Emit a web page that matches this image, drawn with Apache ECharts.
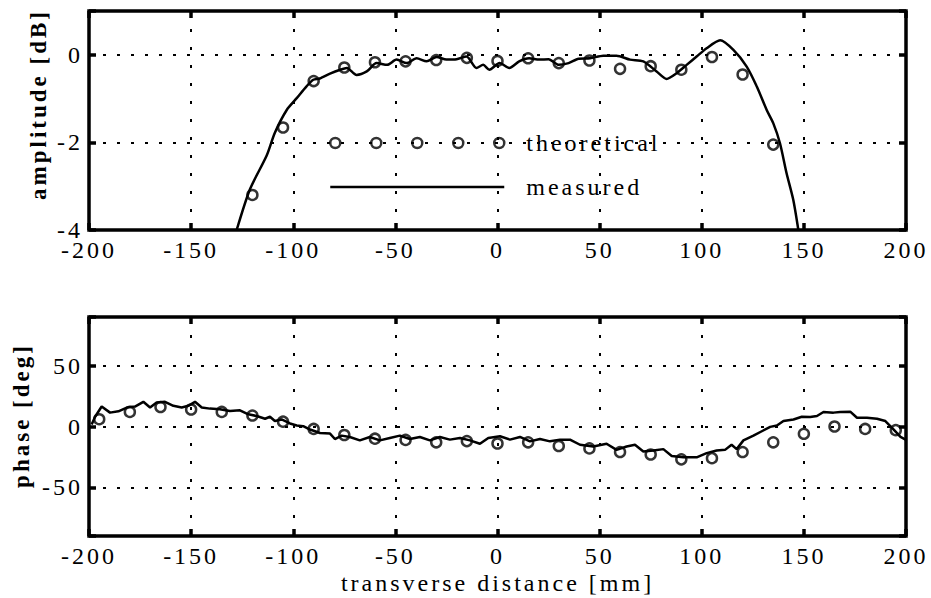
<!DOCTYPE html>
<html><head><meta charset="utf-8">
<script src="https://cdn.jsdelivr.net/npm/echarts@6/dist/echarts.min.js"></script>
<style>
html,body{margin:0;padding:0;background:#fff;}
#chart{width:931px;height:598px;}
#chart text{letter-spacing:3px;}
</style></head><body><div id="chart"></div>
<script>
// ---- data ----
const xTicks = [-200, -150, -100, -50, 0, 50, 100, 150, 200];
const ampTicks = [-4, -2, 0];
const phaseTicks = [-50, 0, 50];

const ampTheoX = [-120, -105, -90, -75, -60, -45, -30, -15, 0, 15, 30, 45, 60, 75, 90, 105, 120, 135];
const ampTheoY = [-3.2, -1.66, -0.6, -0.29, -0.17, -0.15, -0.12, -0.07, -0.14, -0.08, -0.19, -0.13, -0.32, -0.26, -0.34, -0.05, -0.45, -2.05];

const ampMeasX = [-127.7, -121.2, -113, -109, -103.2, -98.3, -93.5, -90.2, -87, -82, -77, -73.8, -69, -64, -59.2, -54, -49.4, -44.5, -39.6, -34.7, -29.8, -25, -20, -15.2, -10.3, -7, -4, 1, 5.8, 10.6, 15.5, 20.4, 25, 30, 34.8, 39.7, 45.3, 51.8, 58.3, 64.9, 71.4, 77.9, 82.8, 87.7, 92.6, 97.5, 102.4, 109, 115.5, 122, 126.9, 131.8, 135, 138.3, 141.5, 144.8, 147.3];
const ampMeasY = [-4.0, -3.07, -2.3, -1.78, -1.26, -0.99, -0.72, -0.57, -0.54, -0.43, -0.34, -0.30, -0.46, -0.38, -0.19, -0.23, -0.11, -0.19, -0.08, -0.15, -0.05, -0.11, -0.10, -0.04, -0.30, -0.23, -0.34, -0.19, -0.30, -0.15, -0.08, -0.11, -0.10, -0.23, -0.19, -0.09, -0.08, -0.02, -0.02, -0.11, -0.15, -0.38, -0.55, -0.42, -0.23, -0.04, 0.15, 0.33, 0.11, -0.27, -0.72, -1.26, -1.56, -2.02, -2.70, -3.31, -4.0];

const phaseTheoX = [-195, -180, -165, -150, -135, -120, -105, -90, -75, -60, -45, -30, -15, 0, 15, 30, 45, 60, 75, 90, 105, 120, 135, 150, 165, 180, 195];
const phaseTheoY = [6, 12, 16, 14, 12, 9, 4, -2, -7, -10, -11, -13, -12, -14, -13, -16, -18, -21, -23, -27, -26, -21, -13, -6, 0, -2, -3];

const phaseMeasX = [-198.7, -197, -193.8, -189.7, -185.6, -181.5, -177.5, -173.4, -170.1, -166.9, -162.8, -158.7, -154.6, -151.4, -148.1, -144.8, -140.8, -135.9, -131, -126.1, -122, -117.9, -113.8, -111.4, -109, -105.7, -101.6, -98.3, -95.1, -91.8, -86.9, -82, -79.6, -76.3, -72.3, -67.4, -62.5, -57.6, -52.7, -47.8, -42.9, -38, -33.1, -28.2, -23.3, -18.4, -13.5, -8.6, -4.5, 1.2, 6.1, 11, 15.9, 20.8, 25.7, 30.6, 35.5, 40.4, 46.9, 53.4, 58.3, 63.2, 67.3, 71.4, 76.3, 81.2, 85.3, 91, 97.5, 102.4, 107.3, 111.4, 114.6, 117.1, 120.4, 125.3, 129.4, 133.5, 136.8, 140, 144.9, 149, 153.1, 156.4, 159.6, 164.5, 167.8, 172.7, 176, 180.9, 185.8, 189.9, 194, 197.3, 200];
const phaseMeasY = [1.7, 8, 16.4, 11.4, 12.5, 15.6, 16.4, 20.3, 15.6, 19.7, 20.3, 17, 15.6, 17, 20.3, 15.6, 14.7, 14.2, 12.8, 13.3, 10, 8.6, 6.4, 8, 4.5, 5.8, 2.5, 0.8, 0.3, -2.5, -5.3, -5.8, -10.3, -7.5, -8.6, -11.4, -8.6, -11.4, -9.4, -7.5, -10.3, -8.6, -11.4, -8.6, -10.8, -9.4, -11.4, -14.2, -9.4, -8, -10.8, -8.6, -12.2, -10.3, -12.2, -10.8, -10.8, -15, -16.4, -14.2, -19.2, -16.4, -15, -20.6, -19.7, -18.6, -24.2, -25.3, -25.3, -21.9, -19.7, -19.2, -15, -18.6, -11.4, -7.5, -3.9, -0.3, 0.8, 4.5, 5.8, 8, 7.8, 8.6, 11.9, 11.4, 11.9, 12.2, 7.2, 7.2, 6.4, 4.5, -2.5, -8.6, -11];

const legendNames = ['theoretical', 'measured'];

// ---- helpers ----
const zip = (xs, ys) => xs.map((x, i) => [x, ys[i]]);
const FONT = 'Liberation Serif';
const BLACK = '#000';

function circlesPath(n, r, step) {
  let p = 'path://';
  for (let i = 0; i < n; i++) {
    const cx = r + i * step;
    p += `M${cx + r},${r}A${r},${r} 0 1,1 ${cx - r},${r}A${r},${r} 0 1,1 ${cx + r},${r}Z`;
  }
  return p;
}
const ICON_W = 174, ICON_H = 10;
const theoIcon = circlesPath(5, 5, (ICON_W - 10) / 4);
const measIcon = `path://M0,0M0,${ICON_H}M0,${ICON_H / 2 - 1.2}H${ICON_W}V${ICON_H / 2 + 1.2}H0Z`;

function xAx(grid, pos, withLabels, name) {
  return {
    type: 'value', gridIndex: grid, position: pos, min: xTicks[0], max: xTicks[xTicks.length - 1], interval: 50,
    axisLine: { show: false, onZero: false },
    axisTick: { show: true, inside: true, length: 7, lineStyle: { color: BLACK, width: 3.5 } },
    axisLabel: { show: withLabels, color: BLACK, fontFamily: FONT, fontSize: 24, lineHeight: 18, margin: 11, showMinLabel: true, showMaxLabel: true },
    splitLine: { show: withLabels, lineStyle: { color: BLACK, width: 2, type: [3, 15] } },
    name: name || '', nameLocation: 'middle', nameGap: 35,
    nameTextStyle: { color: BLACK, fontFamily: FONT, fontSize: 24 }
  };
}
function yAx(grid, pos, withLabels, min, max, split, name, nameGap, nameShift) {
  return {
    type: 'value', gridIndex: grid, position: pos, min: min, max: max, splitNumber: split,
    axisLine: { show: false, onZero: false },
    axisTick: { show: true, inside: true, length: 7, lineStyle: { color: BLACK, width: 3.5 } },
    axisLabel: { show: withLabels, color: BLACK, fontFamily: FONT, fontSize: 24, lineHeight: 18, margin: 6,
      formatter: v => (ampTicks.includes(v) && grid === 0) || (phaseTicks.includes(v) && grid === 1) ? String(v) : '' },
    splitLine: { show: withLabels, lineStyle: { color: BLACK, width: 2, type: [3, 11] } },
    name: name || '', nameLocation: 'middle', nameGap: nameGap || 0,
    nameTextStyle: { color: BLACK, fontFamily: FONT, fontSize: 23, fontWeight: 'bold', padding: [0, 0, 0, nameShift || 0] }
  };
}

const chart = echarts.init(document.getElementById('chart'), null, { renderer: 'svg' });
chart.setOption({
  animation: false,
  backgroundColor: '#fff',
  grid: [
    { left: 89, right: 25, top: 11, height: 219, show: true, borderColor: BLACK, borderWidth: 3.5, backgroundColor: 'transparent' },
    { left: 89, right: 25, top: 317, height: 219, show: true, borderColor: BLACK, borderWidth: 3.5, backgroundColor: 'transparent' }
  ],
  xAxis: [
    xAx(0, 'bottom', true), xAx(0, 'top', false),
    xAx(1, 'bottom', true, 'transverse distance [mm]'), xAx(1, 'top', false)
  ],
  yAxis: [
    yAx(0, 'left', true, -4, 1, 3, 'amplitude [dB]', 39, 32), yAx(0, 'right', false, -4, 1, 3),
    yAx(1, 'left', true, -90, 90, 4, 'phase [deg]', 56, 22), yAx(1, 'right', false, -90, 90, 4)
  ],
  legend: {
    orient: 'vertical', left: 329, top: 131, padding: 0, itemGap: 20,
    itemWidth: ICON_W, itemHeight: ICON_H, selectedMode: false,
    textStyle: { color: BLACK, fontFamily: FONT, fontSize: 24, lineHeight: 24, padding: [0, 0, 0, 17] },
    data: [
      { name: legendNames[0], icon: theoIcon, itemStyle: { color: 'rgba(0,0,0,0)', borderColor: BLACK, borderWidth: 2.5 } },
      { name: legendNames[1], icon: measIcon, itemStyle: { color: BLACK, borderWidth: 0 } }
    ]
  },
  series: [
    { name: legendNames[1], type: 'line', xAxisIndex: 0, yAxisIndex: 0, data: zip(ampMeasX, ampMeasY),
      symbol: 'none', smooth: 0.25, clip: true, silent: true, lineStyle: { color: BLACK, width: 2.5 }, itemStyle: { color: BLACK } },
    { name: legendNames[0], type: 'scatter', xAxisIndex: 0, yAxisIndex: 0, data: zip(ampTheoX, ampTheoY),
      symbol: 'circle', symbolSize: 10, silent: true, itemStyle: { color: 'rgba(0,0,0,0)', borderColor: BLACK, borderWidth: 2.5 } },
    { name: legendNames[1], type: 'line', xAxisIndex: 2, yAxisIndex: 2, data: zip(phaseMeasX, phaseMeasY),
      symbol: 'none', clip: true, silent: true, lineStyle: { color: BLACK, width: 2.5 }, itemStyle: { color: BLACK } },
    { name: legendNames[0], type: 'scatter', xAxisIndex: 2, yAxisIndex: 2, data: zip(phaseTheoX, phaseTheoY),
      symbol: 'circle', symbolSize: 10, silent: true, itemStyle: { color: 'rgba(0,0,0,0)', borderColor: BLACK, borderWidth: 2.5 } }
  ]
});
</script></body></html>
